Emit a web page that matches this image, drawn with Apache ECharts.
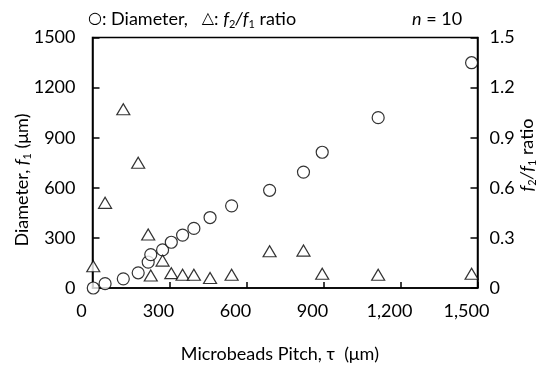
<!DOCTYPE html>
<html>
<head>
<meta charset="utf-8">
<script src="https://cdn.jsdelivr.net/npm/echarts@6/dist/echarts.min.js"></script>
<style>html,body{margin:0;padding:0;background:#fff;}#c{width:547px;height:368px;}</style>
</head>
<body>
<div id="c"></div>
<script>
// Microbeads pitch (µm)
var pitch = [3, 49, 120, 178, 217, 227, 273, 307, 351, 395, 458, 542, 690, 822, 895, 1113, 1477];
// Diameter f1 (µm), left axis
var diameter = [0, 26, 55, 91, 155, 200, 228, 274, 317, 357, 422, 492, 585, 694, 813, 1020, 1349];
// f2/f1 ratio, right axis
var ratio = [0.13, 0.51, 1.07, 0.75, 0.32, 0.075, 0.164, 0.089, 0.079, 0.079, 0.06, 0.079, 0.22, 0.224, 0.085, 0.079, 0.085];
var xTicks = [0, 300, 600, 900, 1200, 1500];
var leftTicks = [0, 300, 600, 900, 1200, 1500];
var rightTicks = [0, 0.3, 0.6, 0.9, 1.2, 1.5];

var FONT = 'Lato, "Noto Sans", "DejaVu Sans", sans-serif';
var chart = echarts.init(document.getElementById('c'));
var diamData = pitch.map(function (p, i) { return [p, diameter[i]]; });
var ratioData = pitch.map(function (p, i) { return [p, ratio[i]]; });

var richBase = {
  n: { fontFamily: FONT, fontSize: 18, color: '#000', lineHeight: 22 },
  it: { fontFamily: FONT, fontSize: 18, fontStyle: 'italic', color: '#000', lineHeight: 22 },
  sub: { fontFamily: FONT, fontSize: 11, color: '#000', verticalAlign: 'bottom', lineHeight: 7 },
  sym: { fontFamily: '"DejaVu Sans", sans-serif', fontSize: 16, color: '#000', lineHeight: 22 }
};

chart.setOption({
  animation: false,
  backgroundColor: '#fff',
  grid: { left: 92.5, right: 69.5, top: 37.5, bottom: 78.5, show: true, borderColor: '#000', borderWidth: 1.5, backgroundColor: 'transparent' },
  xAxis: {
    type: 'value', min: xTicks[0], max: xTicks[xTicks.length - 1], interval: 300,
    axisLine: { lineStyle: { color: '#000', width: 1.5 } },
    axisTick: { inside: true, length: 6, lineStyle: { color: '#000', width: 1.5 } },
    splitLine: { show: false },
    axisLabel: {
      color: '#000', fontFamily: FONT, fontSize: 18, margin: 14, padding: [0, 22, 0, 0],
      formatter: function (v) { return v.toLocaleString('en-US'); }
    },
    name: 'Microbeads Pitch, τ  (μm)', nameLocation: 'middle', nameGap: 57,
    nameTextStyle: { color: '#000', fontFamily: FONT, fontSize: 18, padding: [0, 10, 0, 0] }
  },
  yAxis: [{
    type: 'value', min: leftTicks[0], max: leftTicks[leftTicks.length - 1], interval: 300,
    axisLine: { show: true, lineStyle: { color: '#000', width: 1.5 } },
    axisTick: { show: true, inside: true, length: 7, lineStyle: { color: '#000', width: 1.5 } },
    splitLine: { show: false },
    axisLabel: { color: '#000', fontFamily: FONT, fontSize: 18, margin: 17, padding: [12, 0, 0, 0],
      formatter: function (v) { return String(v); } }
  }, {
    type: 'value', min: rightTicks[0], max: rightTicks[rightTicks.length - 1], interval: 0.3,
    position: 'right',
    axisLine: { show: true, lineStyle: { color: '#000', width: 1.5 } },
    axisTick: { show: true, inside: true, length: 7, lineStyle: { color: '#000', width: 1.5 } },
    splitLine: { show: false },
    axisLabel: { color: '#000', fontFamily: FONT, fontSize: 18, margin: 12, padding: [12, 0, 0, 0],
      formatter: function (v) { return v === 0 ? '0' : v.toFixed(1); } }
  }],
  series: [{
    name: 'Diameter', type: 'scatter', yAxisIndex: 0, data: diamData,
    symbol: 'circle', symbolSize: 12, clip: false,
    itemStyle: { color: '#fff', borderColor: '#000', borderWidth: 1.2 }
  }, {
    name: 'ratio', type: 'scatter', yAxisIndex: 1, data: ratioData,
    symbol: 'triangle', symbolSize: [13, 11], clip: false,
    itemStyle: { color: '#fff', borderColor: '#000', borderWidth: 1.2 }
  }],
  graphic: [{
    type: 'text', left: 88, top: 10,
    style: {
      text: '{sym|○}{n|: Diameter,   }{sym|△}{n|: }{it|f}{sub|2}{it|/f}{sub|1}{n| ratio}',
      rich: richBase
    }
  }, {
    type: 'text', left: 412, top: 10,
    style: { text: '{it|n}{n| = 10}', rich: richBase }
  }, {
    type: 'text', x: 22, y: 180, rotation: Math.PI / 2,
    style: {
      text: '{n|Diameter, }{it|f}{sub|1}{n| (μm)}', rich: richBase,
      align: 'center', verticalAlign: 'middle'
    }
  }, {
    type: 'text', x: 527, y: 155, rotation: Math.PI / 2,
    style: {
      text: '{it|f}{sub|2}{it|/f}{sub|1}{n| ratio}', rich: richBase,
      align: 'center', verticalAlign: 'middle'
    }
  }]
});
</script>
</body>
</html>
